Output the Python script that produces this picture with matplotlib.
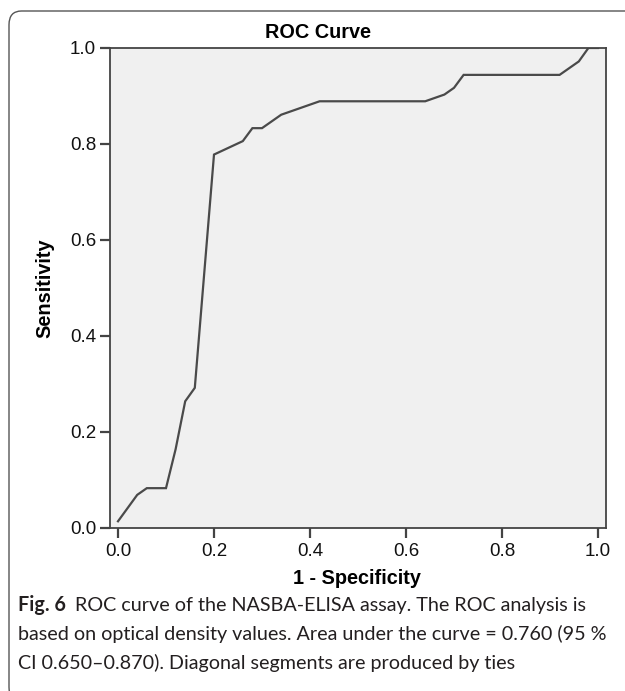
import matplotlib
matplotlib.use("Agg")
import matplotlib.pyplot as plt
from matplotlib.patches import FancyBboxPatch

# ROC curve points
fpr = [0.0, 0.04, 0.06, 0.10, 0.12, 0.14, 0.16, 0.20, 0.26, 0.28, 0.30, 0.34,
       0.42, 0.64, 0.68, 0.70, 0.72, 0.92, 0.96, 0.98, 1.0]
tpr = [0.014, 0.069, 0.083, 0.083, 0.164, 0.264, 0.292, 0.778, 0.806, 0.833, 0.833, 0.861,
       0.889, 0.889, 0.903, 0.917, 0.944, 0.944, 0.972, 1.0, 1.0]
ticks = [0.0, 0.2, 0.4, 0.6, 0.8, 1.0]
tick_labels = ["0.0", "0.2", "0.4", "0.6", "0.8", "1.0"]

caption_bold = "Fig. 6"
caption_lines = [
    "ROC curve of the NASBA-ELISA assay. The ROC analysis is",
    "based on optical density values. Area under the curve = 0.760 (95 %",
    "CI 0.650\u20130.870). Diagonal segments are produced by ties",
]

W, H = 625, 691
fig = plt.figure(figsize=(W / 100, H / 100), dpi=100)
plt.rcParams['font.family'] = ['Liberation Sans', 'DejaVu Sans']

# outer rounded frame
frame = FancyBboxPatch((9 / W, -10 / H), 640 / W, (H - 11 + 10) / H,
                       boxstyle="round,pad=0,rounding_size=0.02",
                       transform=fig.transFigure, fill=False,
                       edgecolor="#555555", linewidth=1.0, clip_on=False)
fig.patches.append(frame)

ax = fig.add_axes([110 / W, (H - 528) / H, 496 / W, 480 / H])
ax.set_facecolor("#f0f0f0")
ax.plot(fpr, tpr, color="#4a4a4a", linewidth=1.6, solid_joinstyle="miter")
ax.set_xlim(-8 / 480, 488 / 480)
ax.set_ylim(0, 1)
ax.set_xticks(ticks)
ax.set_xticklabels(tick_labels)
ax.set_yticks(ticks)
ax.set_yticklabels(tick_labels)
for s in ax.spines.values():
    s.set_color("#444444")
    s.set_linewidth(1.3)
ax.tick_params(axis="both", direction="out", length=7, width=1.6, color="#444444",
               labelsize=13.5, labelcolor="#111111")
ax.tick_params(axis="x", pad=4)
ax.tick_params(axis="y", pad=3)

fig.text(318 / W, 1 - 33 / H, "ROC Curve", ha="center", va="center",
         fontsize=14.3, fontweight="bold")
fig.text(357 / W, 1 - 579 / H, "1 - Specificity", ha="center", va="center",
         fontsize=14.3, fontweight="bold")
fig.text(45 / W, 1 - 288 / H, "Sensitivity", ha="center", va="center",
         rotation=90, fontsize=14.3, fontweight="bold")

# caption
cap_font = ['Lato', 'DejaVu Sans']
base_y = [611, 640, 669]
fig.text(18 / W, 1 - base_y[0] / H, caption_bold, ha="left", va="baseline",
         fontsize=14.2, fontweight="bold", family=cap_font, color="#231f20")
fig.text(75 / W, 1 - base_y[0] / H, caption_lines[0], ha="left", va="baseline",
         fontsize=14.2, family=cap_font, color="#231f20")
for line, y in zip(caption_lines[1:], base_y[1:]):
    fig.text(18 / W, 1 - y / H, line, ha="left", va="baseline",
             fontsize=14.2, family=cap_font, color="#231f20")

fig.savefig("out.png", dpi=100, facecolor="white")
